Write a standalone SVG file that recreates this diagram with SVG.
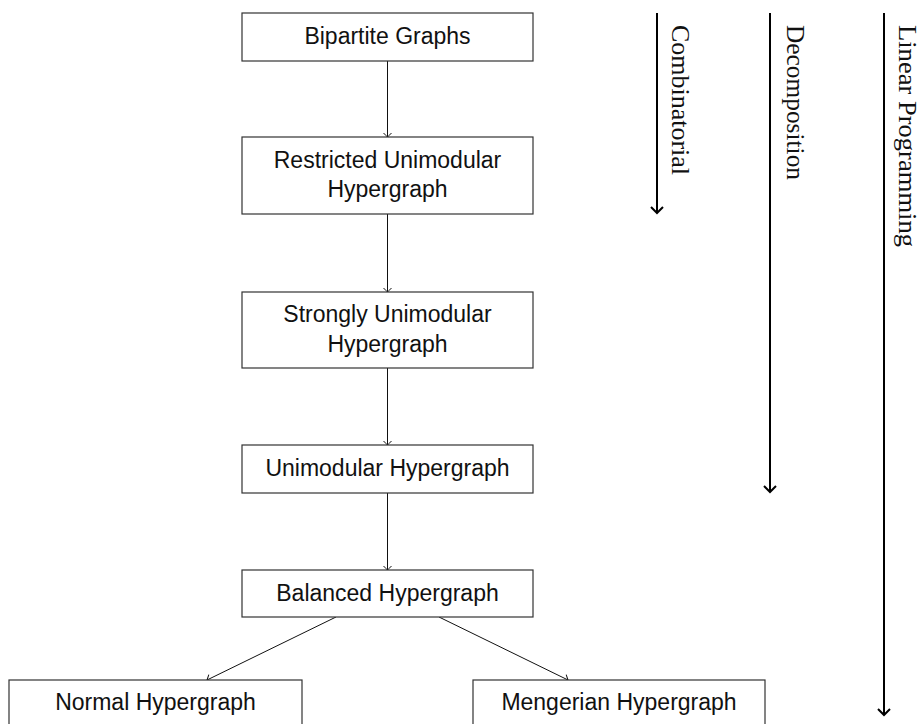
<svg xmlns="http://www.w3.org/2000/svg" width="922" height="724" viewBox="0 0 922 724">
<style>
.box{fill:#fff;stroke:#333;stroke-width:1.2}
.lbl{font-family:"Liberation Sans",Arial,sans-serif;font-size:23px;fill:#111;text-anchor:middle}
.side{font-family:"Liberation Serif","Times New Roman",serif;font-size:25px;fill:#111}
.edge{stroke:#111;stroke-width:1;fill:none;marker-end:url(#tip)}
.long{stroke:#000;stroke-width:2;fill:none;marker-end:url(#tipB)}
</style>
<defs>
<marker id="tip" markerUnits="userSpaceOnUse" viewBox="-6 -6 8 12" markerWidth="8" markerHeight="12" refX="0" refY="0" orient="auto" overflow="visible">
<path d="M-4,-4 Q-1,-1 0,0 Q-1,1 -4,4" fill="none" stroke="#111" stroke-width="1"/>
</marker>
<marker id="tipB" markerUnits="userSpaceOnUse" viewBox="-8 -8 10 16" markerWidth="10" markerHeight="16" refX="0" refY="0" orient="auto" overflow="visible">
<path d="M-6,-6 Q-1.5,-1.5 0,0 Q-1.5,1.5 -6,6" fill="none" stroke="#000" stroke-width="2"/>
</marker>
</defs>
<g id="connectors">
<line class="edge" x1="387.5" y1="61" x2="387.5" y2="137"/>
<line class="edge" x1="387.5" y1="214" x2="387.5" y2="292"/>
<line class="edge" x1="387.5" y1="368" x2="387.5" y2="445"/>
<line class="edge" x1="387.5" y1="493" x2="387.5" y2="570"/>
<line class="edge" x1="336" y1="617" x2="207" y2="680"/>
<line class="edge" x1="439" y1="617" x2="568" y2="680"/>
<line class="long" x1="657" y1="13" x2="657" y2="213"/>
<line class="long" x1="770" y1="13" x2="770" y2="492"/>
<line class="long" x1="884" y1="13" x2="884" y2="715"/>
</g>
<g id="n-bipartite"><rect class="box" x="242" y="13" width="291" height="48"/><text class="lbl" x="387.5" y="44">Bipartite Graphs</text></g>
<g id="n-restricted"><rect class="box" x="242" y="137" width="291" height="77"/><text class="lbl" x="387.5" y="168">Restricted Unimodular</text><text class="lbl" x="387.5" y="197">Hypergraph</text></g>
<g id="n-strongly"><rect class="box" x="242" y="292" width="291" height="76"/><text class="lbl" x="387.5" y="322">Strongly Unimodular</text><text class="lbl" x="387.5" y="352">Hypergraph</text></g>
<g id="n-unimodular"><rect class="box" x="242" y="445" width="291" height="48"/><text class="lbl" x="387.5" y="476">Unimodular Hypergraph</text></g>
<g id="n-balanced"><rect class="box" x="242" y="570" width="291" height="47"/><text class="lbl" x="387.5" y="601">Balanced Hypergraph</text></g>
<g id="n-normal"><rect class="box" x="9" y="680" width="293" height="60"/><text class="lbl" x="155.5" y="710">Normal Hypergraph</text></g>
<g id="n-mengerian"><rect class="box" x="473" y="680" width="292" height="60"/><text class="lbl" x="619" y="710">Mengerian Hypergraph</text></g>
<g id="side-labels">
<text class="side" transform="translate(672,25) rotate(90)" textLength="150" lengthAdjust="spacingAndGlyphs">Combinatorial</text>
<text class="side" transform="translate(787,25) rotate(90)" textLength="155" lengthAdjust="spacingAndGlyphs">Decomposition</text>
<text class="side" transform="translate(899,25) rotate(90)" textLength="222" lengthAdjust="spacingAndGlyphs">Linear Programming</text>
</g>
</svg>
